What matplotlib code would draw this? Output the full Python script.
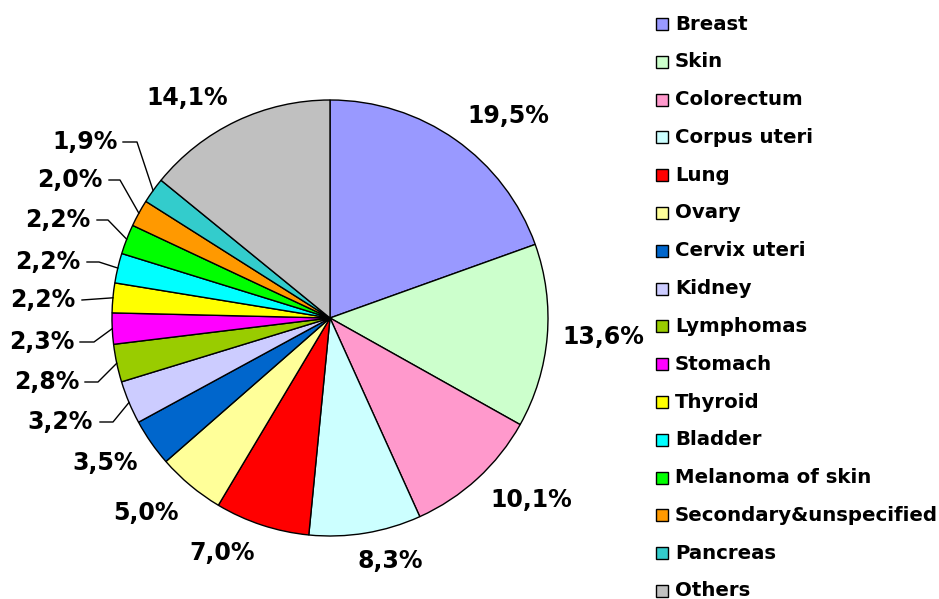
import numpy as np
import matplotlib
matplotlib.use("Agg")
import matplotlib.pyplot as plt
from matplotlib.patches import Rectangle

# data
sites = ["Breast", "Skin", "Colorectum", "Corpus uteri", "Lung", "Ovary",
         "Cervix uteri", "Kidney", "Lymphomas", "Stomach", "Thyroid", "Bladder",
         "Melanoma of skin", "Secondary&unspecified", "Pancreas", "Others"]
shares = [19.5, 13.6, 10.1, 8.3, 7.0, 5.0, 3.5, 3.2, 2.8, 2.3, 2.2, 2.2,
          2.2, 2.0, 1.9, 14.1]
colors = ["#9999FF", "#CCFFCC", "#FF99CC", "#CCFFFF", "#FF0000", "#FFFF99",
          "#0066CC", "#CCCCFF", "#99CC00", "#FF00FF", "#FFFF00", "#00FFFF",
          "#00FF00", "#FF9900", "#33CCCC", "#C0C0C0"]

W, H = 939, 599
fig = plt.figure(figsize=(W / 100, H / 100), dpi=100)
ax = fig.add_axes([0, 0, 1, 1])

cx, cy, r = 330, 318, 218  # pixel coords, y from top


def P(x, y):
    return x, H - y


wedges, _ = ax.pie(shares, colors=colors, startangle=90, counterclock=False,
                   center=P(cx, cy), radius=r,
                   wedgeprops=dict(edgecolor="black", linewidth=1.0))
ax.set_xlim(0, W)
ax.set_ylim(0, H)
ax.set_aspect("equal")
ax.axis("off")

# label text positions (pixel, from top)
label_pos = [(508, 116), (603, 337), (531, 500), (390, 561), (222, 553),
             (146, 513), (105, 463), (60, 422), (47, 382), (42, 342),
             (43, 300), (48, 262), (58, 220), (70, 180), (85, 142), (187, 98)]
# leader: (start x of line, elbow x) for small slices
leaders = {7: (100, 113), 8: (85, 98), 9: (80, 94), 10: (82, None),
           11: (87, 99), 12: (97, 108), 13: (109, 120), 14: (123, 137)}

for i, (v, (tx, ty)) in enumerate(zip(shares, label_pos)):
    txt = f"{v:.1f}%".replace(".", ",")
    ax.text(*P(tx, ty), txt, ha="center", va="center", fontsize=17,
            fontweight="bold", family="DejaVu Sans")
    if i in leaders:
        w = wedges[i]
        mid = np.deg2rad((w.theta1 + w.theta2) / 2)
        ex = cx + r * np.cos(mid)
        ey = cy - r * np.sin(mid)
        x0, x1 = leaders[i]
        if x1 is None:
            xs, ys = [x0, ex], [ty, ey]
        else:
            xs, ys = [x0, x1, ex], [ty, ty, ey]
        ax.plot(xs, [H - y for y in ys], color="black", lw=1.0)

# legend
ly0, dy = 24, 37.8
for i, (name, c) in enumerate(zip(sites, colors)):
    y = ly0 + i * dy
    ax.add_patch(Rectangle(P(656, y + 6), 12, 12, facecolor=c,
                           edgecolor="black", lw=1.0))
    ax.text(*P(675, y), name, ha="left", va="center", fontsize=14.2,
            fontweight="bold", family="DejaVu Sans")

fig.savefig("out.png", dpi=100)
